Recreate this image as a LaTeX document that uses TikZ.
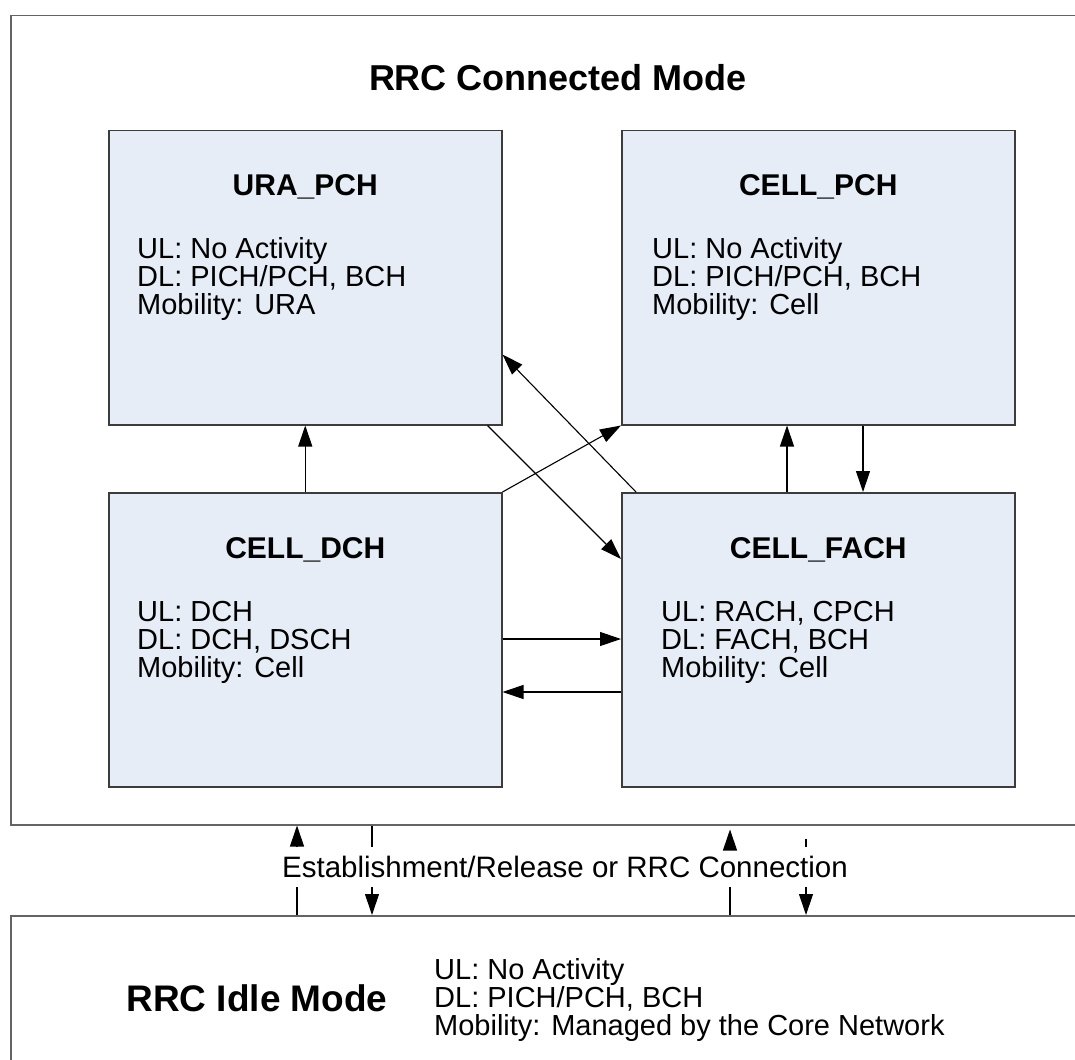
\documentclass[tikz,border=0pt]{standalone}
\usepackage{fontspec}
\setmainfont{Liberation Sans}
\usetikzlibrary{arrows.meta}
\definecolor{statefill}{RGB}{230,237,247}
\definecolor{stateedge}{RGB}{60,60,60}
\definecolor{frameedge}{RGB}{100,100,100}
\tikzset{
  modeframe/.style={draw=frameedge, line width=1.5pt, fill=none, inner sep=0pt},
  statebox/.style={draw=stateedge, line width=1.5pt, fill=statefill,
    minimum width=393pt, minimum height=294pt, inner sep=0pt},
  statetitle/.style={font=\bfseries\fontsize{30}{34}\selectfont, inner sep=0pt},
  statebody/.style={font=\fontsize{29}{28}\selectfont, align=left,
    anchor=north west, inner sep=0pt},
  bigtitle/.style={font=\bfseries\fontsize{36}{40}\selectfont, inner sep=0pt},
  conn/.style={line width=1.1pt, -{Triangle[length=21pt,width=14pt]}},
  plain/.style={line width=1.1pt},
}
\begin{document}
\begin{tikzpicture}[x=1pt,y=-1pt]
\useasboundingbox (0,0) rectangle (1075,1059);
\clip (0,0) rectangle (1075,1059);

% mode frames (both run off the right edge)
\node[modeframe, minimum width=1100pt, minimum height=809pt, anchor=north west]
  (connected) at (10,15) {};
\node[modeframe, minimum width=1100pt, minimum height=200pt, anchor=north west]
  (idle) at (10,915) {};

\node[bigtitle] (conntitle) at (558,78) {RRC Connected Mode};

% the four connected-mode states
\node[statebox, anchor=north west] (ura)  at (108,130) {};
\node[statebox, anchor=north west] (pch)  at (621,130) {};
\node[statebox, anchor=north west] (dch)  at (108,492) {};
\node[statebox, anchor=north west] (fach) at (621,492) {};

\node[statetitle] (uratitle)  at ([yshift=-57pt]ura.north)  {URA\_PCH};
\node[statetitle] (pchtitle)  at ([yshift=-57pt]pch.north)  {CELL\_PCH};
\node[statetitle] (dchtitle)  at ([yshift=-58pt]dch.north)  {CELL\_DCH};
\node[statetitle] (fachtitle) at ([yshift=-58pt]fach.north) {CELL\_FACH};

\node[statebody] (urabody) at ([xshift=29pt,yshift=-107pt]ura.north west)
  {UL: No Activity\\DL: PICH/PCH, BCH\\Mobility: URA};
\node[statebody] (pchbody) at ([xshift=31pt,yshift=-107pt]pch.north west)
  {UL: No Activity\\DL: PICH/PCH, BCH\\Mobility: Cell};
\node[statebody] (dchbody) at ([xshift=29pt,yshift=-109pt]dch.north west)
  {UL: DCH\\DL: DCH, DSCH\\Mobility: Cell};
\node[statebody] (fachbody) at ([xshift=40pt,yshift=-109pt]fach.north west)
  {UL: RACH, CPCH\\DL: FACH, BCH\\Mobility: Cell};

% transitions between states
\draw[conn] (dch.north) -- (ura.south);
\draw[conn] (dch.north east) -- (pch.south west);
\draw[conn] ([xshift=-15pt]ura.south east) -- ([yshift=-67pt]fach.north west);
\draw[conn] ([xshift=15pt]fach.north west) -- ([yshift=71pt]ura.south east);
\draw[conn] ([xshift=166pt]fach.north west) -- ([xshift=166pt]pch.south west);
\draw[conn] ([xshift=242pt]pch.south west) -- ([xshift=242pt]fach.north west);
\draw[conn] ([yshift=-147pt]dch.north east) -- ([yshift=-147pt]fach.north west);
\draw[conn] ([yshift=-200pt]fach.north west) -- ([yshift=-200pt]dch.north east);

% idle mode
\node[font=\bfseries\fontsize{37}{42}\selectfont, inner sep=0pt] (idletitle)
  at (257,998) {RRC Idle Mode};
\node[font=\fontsize{29}{28}\selectfont, align=left, anchor=north west, inner sep=0pt]
  (idlebody) at (434,958) {UL: No Activity\\DL: PICH/PCH, BCH\\Mobility: Managed by the Core Network};

% connection establishment / release
\node[font=\fontsize{29.5}{33}\selectfont, inner sep=0pt, minimum height=39pt]
  (estlabel) at (565,867) {Establishment/Release or RRC Connection};

\coordinate (c1) at ([xshift=287pt]idle.north west);
\coordinate (c2) at ([xshift=362pt]idle.north west);
\coordinate (c3) at ([xshift=720pt]idle.north west);
\coordinate (c4) at ([xshift=796pt]idle.north west);

\draw[plain] (c1) -- (c1 |- estlabel.south);
\draw[conn] (c1 |- estlabel.north) -- (c1 |- connected.south);
\draw[plain] (c2 |- connected.south) -- (c2 |- estlabel.north);
\draw[conn] (c2 |- estlabel.south) -- (c2);
\draw[plain] (c3) -- (c3 |- estlabel.south);
\draw[conn] (c3 |- estlabel.north) -- ([yshift=-4pt]c3 |- connected.south);
\draw[plain] ([yshift=-13pt]c4 |- connected.south) -- (c4 |- estlabel.north);
\draw[conn] (c4 |- estlabel.south) -- (c4);
\end{tikzpicture}
\end{document}
